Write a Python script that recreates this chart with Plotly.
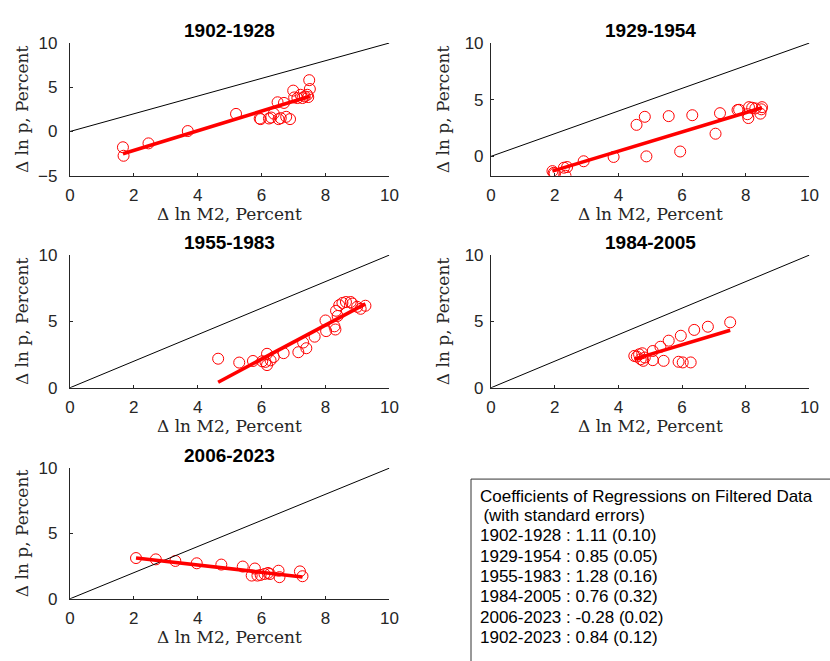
import plotly.graph_objects as go

W, H = 830, 661

# ---------------- data ----------------
periods = ["1902-1928", "1929-1954", "1955-1983", "1984-2005", "2006-2023"]

m2_1902 = [1.66, 1.68, 2.46, 3.69, 5.20, 5.94, 5.97, 6.23, 6.38, 6.30, 6.53, 6.60, 6.77,
           6.89, 6.50, 6.70, 6.99, 7.02, 7.12, 7.22, 7.28, 7.35, 7.43, 7.49, 7.51, 7.46]
p_1902 = [-1.78, -2.74, -1.34, 0.05, 1.99, 1.47, 1.40, 1.47, 2.02, 1.58, 1.40, 1.51, 1.66,
          1.40, 3.30, 3.23, 4.62, 3.85, 3.78, 4.15, 3.78, 3.96, 4.15, 5.80, 4.80, 3.89]

m2_1929 = [1.93, 1.97, 2.00, 2.29, 2.39, 2.34, 2.91, 3.85, 4.57, 4.83, 4.88, 5.58, 5.94,
           6.32, 7.05, 7.19, 7.74, 7.79, 8.05, 8.08, 8.10, 8.20, 8.30, 8.46, 8.49, 8.51]
p_1929 = [-1.30, -1.45, -1.51, -1.00, -0.94, -1.71, -0.43, -0.05, 2.78, 3.49, 0.00, 3.55, 0.43,
          3.63, 2.00, 3.81, 4.09, 4.11, 3.72, 3.38, 4.34, 4.29, 4.23, 3.77, 4.15, 4.34]

m2_1955 = [4.64, 5.30, 5.73, 6.02, 6.12, 6.17, 6.17, 6.28, 6.38, 6.69, 7.15, 7.30, 7.40, 7.66,
           8.00, 8.02, 8.28, 8.31, 8.33, 8.38, 8.43, 8.53, 8.64, 8.79, 8.84, 8.99, 9.10, 9.25]
p_1955 = [2.19, 1.90, 2.02, 2.00, 1.95, 2.56, 1.71, 2.07, 2.32, 2.61, 2.68, 3.41, 2.98, 3.85,
          5.07, 4.27, 4.63, 4.39, 5.80, 5.41, 6.22, 6.39, 6.46, 6.46, 6.34, 6.10, 5.95, 6.18]

m2_1984 = [4.50, 4.58, 4.65, 4.70, 4.75, 4.78, 4.83, 5.08, 5.08, 5.32, 5.42, 5.58, 5.89,
           5.96, 6.02, 6.27, 6.38, 6.81, 7.51]
p_1984 = [2.40, 2.35, 2.52, 2.15, 2.60, 2.03, 2.28, 2.77, 2.08, 3.09, 2.03, 3.55, 1.96,
          3.92, 1.91, 1.91, 4.36, 4.60, 4.93]

m2_2006 = [2.07, 2.69, 3.30, 3.97, 4.74, 5.41, 5.79, 5.69, 5.87, 5.97, 6.09, 6.20, 6.26,
           6.53, 6.56, 7.20, 7.28]
p_2006 = [3.12, 3.02, 2.90, 2.72, 2.62, 2.47, 2.32, 1.78, 1.78, 1.83, 1.90, 1.98, 1.90,
          2.15, 1.66, 2.10, 1.73]

m2_data = [m2_1902, m2_1929, m2_1955, m2_1984, m2_2006]
p_data = [p_1902, p_1929, p_1955, p_1984, p_2006]

fit_slope = [1.11, 0.85, 1.28, 0.72, -0.28]
fit_intercept = [-4.36, -2.94, -5.52, -1.08, 3.71]

y_ranges = [[-5, 10], [-1.71, 10], [0, 10], [0, 10], [0, 10]]
y_ticks = [[-5, 0, 5, 10], [0, 5, 10], [0, 5, 10], [0, 5, 10], [0, 5, 10]]
x_range = [0, 10]
x_ticks = [0, 2, 4, 6, 8, 10]
ref_line = [0, 10]

box_lines = [
    "Coefficients of Regressions on Filtered Data",
    "\u2009(with standard errors)",
    "1902-1928 : 1.11 (0.10)",
    "1929-1954 : 0.85 (0.05)",
    "1955-1983 : 1.28 (0.16)",
    "1984-2005 : 0.76 (0.32)",
    "2006-2023 : -0.28 (0.02)",
    "1902-2023 : 0.84 (0.12)",
]

x_title = "\u0394 ln M2, Percent"
y_title = "\u0394 ln p, Percent"

# ---------------- layout geometry (pixels) ----------------
col_px = [(66.0, 391.0), (494.3, 818.3)]
row_px = [(35.0, 171.7), (253.3, 390.0), (472.7, 607.3)]
cells = [(0, 0), (0, 1), (1, 0), (1, 1), (2, 0)]

AX_COL = "#262626"
SANS = "Liberation Sans, Arial, Helvetica, sans-serif"
SERIF = "DejaVu Serif, serif"


def fx(px):
    return px / W


def fy(py):
    return 1 - py / H


fig = go.Figure()
layout_axes = {}
annotations = []

for i, (r, c) in enumerate(cells):
    n = i + 1
    xa = "x" if n == 1 else f"x{n}"
    ya = "y" if n == 1 else f"y{n}"
    x0, x1 = col_px[c]
    ytop, ybot = row_px[r]

    xs = m2_data[i]
    ys = p_data[i]
    fig.add_trace(go.Scatter(
        x=xs, y=ys, mode="markers", xaxis=xa, yaxis=ya, showlegend=False,
        marker=dict(symbol="circle-open", size=11, color="#ff0000",
                    line=dict(width=1, color="#ff0000")),
        hoverinfo="skip"))
    fig.add_trace(go.Scatter(
        x=ref_line, y=ref_line, mode="lines", xaxis=xa, yaxis=ya, showlegend=False,
        line=dict(color="black", width=1), hoverinfo="skip"))
    xmin, xmax = min(xs), max(xs)
    fig.add_trace(go.Scatter(
        x=[xmin, xmax],
        y=[fit_intercept[i] + fit_slope[i] * xmin, fit_intercept[i] + fit_slope[i] * xmax],
        mode="lines", xaxis=xa, yaxis=ya, showlegend=False,
        line=dict(color="#ff0000", width=3.6), hoverinfo="skip"))

    key_x = "xaxis" if n == 1 else f"xaxis{n}"
    key_y = "yaxis" if n == 1 else f"yaxis{n}"
    layout_axes[key_x] = dict(
        domain=[fx(x0), fx(x1)], anchor=ya, range=x_range, tickvals=x_ticks,
        ticks="inside", ticklen=3, tickwidth=1, tickcolor=AX_COL,
        showline=True, linecolor=AX_COL, linewidth=1, showgrid=False, zeroline=False,
        tickfont=dict(family=SANS, size=17, color=AX_COL), ticklabelstandoff=4,
        fixedrange=True)
    layout_axes[key_y] = dict(
        domain=[fy(ybot), fy(ytop)], anchor=xa, range=y_ranges[i], tickvals=y_ticks[i],
        ticks="inside", ticklen=3, tickwidth=1, tickcolor=AX_COL,
        showline=True, linecolor=AX_COL, linewidth=1, showgrid=False, zeroline=False,
        tickfont=dict(family=SANS, size=17, color=AX_COL),
        ticklabelstandoff=8 if c == 0 else 3, fixedrange=True)

    xc = (x0 + x1) / 2
    # subplot title
    annotations.append(dict(
        text=f"<b>{periods[i]}</b>", x=fx(xc), y=fy(ytop - 12.5), xref="paper", yref="paper",
        xanchor="center", yanchor="middle", showarrow=False,
        font=dict(family=SANS, size=19, color="black")))
    # x axis title
    annotations.append(dict(
        text=x_title, x=fx(xc), y=fy(ybot + 39.5), xref="paper", yref="paper",
        xanchor="center", yanchor="middle", showarrow=False,
        font=dict(family=SERIF, size=17, color=AX_COL)))
    # y axis title
    annotations.append(dict(
        text=y_title, x=fx(x0 - 48), y=fy((ytop + ybot) / 2), xref="paper", yref="paper",
        xanchor="center", yanchor="middle", showarrow=False, textangle=-90,
        font=dict(family=SERIF, size=17, color=AX_COL)))

# coefficient text box
line_centers = [501.7, 521.7, 542.3, 563.3, 584.0, 605.0, 626.0, 646.7]
for txt, yc in zip(box_lines, line_centers):
    annotations.append(dict(
        text=txt, x=fx(481.5), y=fy(yc), xref="paper", yref="paper",
        xanchor="left", yanchor="middle", showarrow=False,
        font=dict(family=SANS, size=17, color="black")))

shapes = [dict(type="rect", xref="paper", yref="paper",
               x0=fx(474), x1=1.02, y0=-0.02, y1=fy(484),
               line=dict(color="#333333", width=1), fillcolor="rgba(0,0,0,0)")]

fig.update_layout(
    width=W, height=H, autosize=False,
    margin=dict(l=0, r=0, t=0, b=0),
    paper_bgcolor="white", plot_bgcolor="white",
    annotations=annotations, shapes=shapes,
    **layout_axes)

fig.write_html("out.html", config={"displayModeBar": False},
               post_script="document.body.style.margin='0';")
